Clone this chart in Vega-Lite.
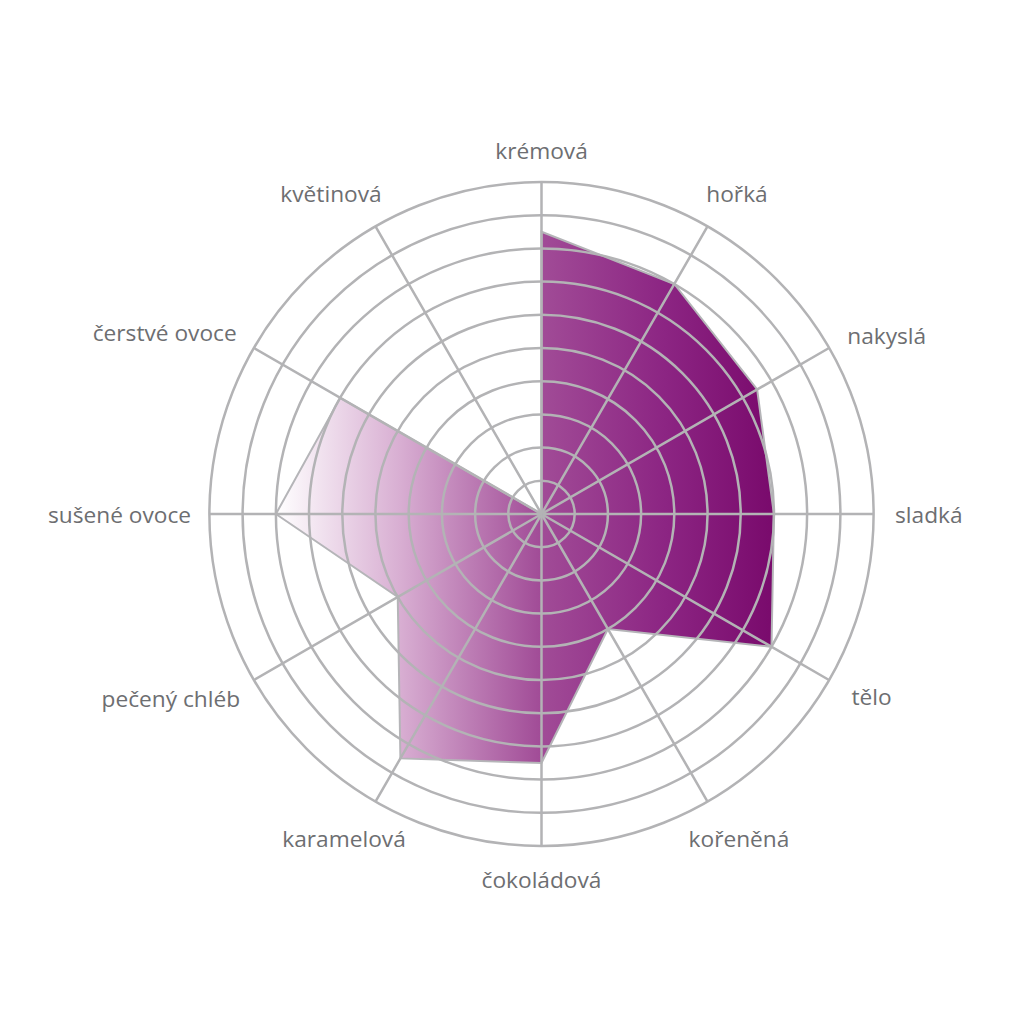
{
  "$schema": "https://vega.github.io/schema/vega-lite/v6.json",
  "width": 1000,
  "height": 1000,
  "autosize": {"type": "none"},
  "padding": {"left": 41.5, "top": 14, "right": 0, "bottom": 0},
  "background": "white",
  "config": {"view": {"stroke": null}, "text": {"font": "Open Sans", "fontSize": 22.7, "fill": "#6d6e71", "baseline": "alphabetic"}},
  "datasets": {
    "flavors": [
      {"i": 0, "label": "krémová", "value": 8.5},
      {"i": 1, "label": "hořká", "value": 8},
      {"i": 2, "label": "nakyslá", "value": 7.5},
      {"i": 3, "label": "sladká", "value": 7},
      {"i": 4, "label": "tělo", "value": 8},
      {"i": 5, "label": "kořeněná", "value": 4},
      {"i": 6, "label": "čokoládová", "value": 7.5},
      {"i": 7, "label": "karamelová", "value": 8.5},
      {"i": 8, "label": "pečený chléb", "value": 5},
      {"i": 9, "label": "sušené ovoce", "value": 8},
      {"i": 10, "label": "čerstvé ovoce", "value": 7},
      {"i": 11, "label": "květinová", "value": 0}
    ],
    "rings": [
      {"r": 1}, {"r": 2}, {"r": 3}, {"r": 4}, {"r": 5},
      {"r": 6}, {"r": 7}, {"r": 8}, {"r": 9}, {"r": 10}
    ]
  },
  "layer": [
    {
      "data": {"name": "flavors"},
      "transform": [
        {"calculate": "datum.value * sin(datum.i * PI / 6)", "as": "px"},
        {"calculate": "datum.value * cos(datum.i * PI / 6)", "as": "py"}
      ],
      "mark": {
        "type": "line",
        "interpolate": "linear-closed",
        "stroke": "#b5b5b8",
        "strokeWidth": 2,
        "fill": {
          "gradient": "linear",
          "x1": 0, "y1": 0, "x2": 1, "y2": 0,
          "stops": [
            {"offset": 0, "color": "#ffffff"},
            {"offset": 0.25, "color": "#d8aed2"},
            {"offset": 0.53, "color": "#a14c97"},
            {"offset": 0.78, "color": "#8c2583"},
            {"offset": 1, "color": "#790a6c"}
          ]
        }
      },
      "encoding": {
        "x": {"field": "px", "type": "quantitative", "scale": {"domain": [-15.06, 15.06], "nice": false, "zero": false}, "axis": null},
        "y": {"field": "py", "type": "quantitative", "scale": {"domain": [-15.06, 15.06], "nice": false, "zero": false}, "axis": null},
        "order": {"field": "i", "type": "quantitative"}
      }
    },
    {
      "data": {"name": "rings"},
      "mark": {"type": "arc", "theta": 0, "theta2": 6.2832, "fill": null, "filled": false, "stroke": "#b3b3b5", "strokeWidth": 2.5},
      "encoding": {
        "radius": {"field": "r", "type": "quantitative", "stack": null, "scale": {"type": "linear", "domain": [0, 10], "range": [0, 332], "zero": true}}
      }
    },
    {
      "data": {"name": "flavors"},
      "mark": {"type": "arc", "fill": null, "filled": false, "stroke": "#b3b3b5", "strokeWidth": 2.5},
      "encoding": {
        "theta": {"field": "i", "type": "quantitative", "scale": {"domain": [0, 12], "range": [0, 6.283185307]}},
        "theta2": {"field": "i"},
        "radius": {"datum": 10, "type": "quantitative"},
        "radius2": {"datum": 0}
      }
    },
    {
      "data": {"name": "flavors"},
      "transform": [{"filter": "datum.i == 0"}],
      "mark": {"type": "text", "align": "center"},
      "encoding": {"theta": {"field": "i", "type": "quantitative"}, "radius": {"datum": 10.7, "type": "quantitative"}, "text": {"field": "label"}}
    },
    {
      "data": {"name": "flavors"},
      "transform": [{"filter": "datum.i == 6"}],
      "mark": {"type": "text", "align": "center"},
      "encoding": {"theta": {"field": "i", "type": "quantitative"}, "radius": {"datum": 11.265, "type": "quantitative"}, "text": {"field": "label"}}
    },
    {
      "data": {"name": "flavors"},
      "transform": [{"filter": "datum.i == 1"}],
      "mark": {"type": "text", "align": "center", "dx": 15.5},
      "encoding": {"theta": {"field": "i", "type": "quantitative"}, "radius": {"datum": 10.843, "type": "quantitative"}, "text": {"field": "label"}}
    },
    {
      "data": {"name": "flavors"},
      "transform": [{"filter": "datum.i == 11"}],
      "mark": {"type": "text", "align": "center", "dx": -30.5},
      "encoding": {"theta": {"field": "i", "type": "quantitative"}, "radius": {"datum": 10.843, "type": "quantitative"}, "text": {"field": "label"}}
    },
    {
      "data": {"name": "flavors"},
      "transform": [{"filter": "datum.i == 5"}],
      "mark": {"type": "text", "align": "center", "dx": 5.5},
      "encoding": {"theta": {"field": "i", "type": "quantitative"}, "radius": {"datum": 11.566, "type": "quantitative"}, "text": {"field": "label"}}
    },
    {
      "data": {"name": "flavors"},
      "transform": [{"filter": "datum.i == 7"}],
      "mark": {"type": "text", "align": "center", "dx": -5.5},
      "encoding": {"theta": {"field": "i", "type": "quantitative"}, "radius": {"datum": 11.566, "type": "quantitative"}, "text": {"field": "label"}}
    },
    {
      "data": {"name": "flavors"},
      "transform": [{"filter": "datum.i == 2"}],
      "mark": {"type": "text", "align": "left", "dy": 7},
      "encoding": {"theta": {"field": "i", "type": "quantitative"}, "radius": {"datum": 10.633, "type": "quantitative"}, "text": {"field": "label"}}
    },
    {
      "data": {"name": "flavors"},
      "transform": [{"filter": "datum.i == 3"}],
      "mark": {"type": "text", "align": "left", "dy": 9},
      "encoding": {"theta": {"field": "i", "type": "quantitative"}, "radius": {"datum": 10.648, "type": "quantitative"}, "text": {"field": "label"}}
    },
    {
      "data": {"name": "flavors"},
      "transform": [{"filter": "datum.i == 4"}],
      "mark": {"type": "text", "align": "left", "dy": 12},
      "encoding": {"theta": {"field": "i", "type": "quantitative"}, "radius": {"datum": 10.783, "type": "quantitative"}, "text": {"field": "label"}}
    },
    {
      "data": {"name": "flavors"},
      "transform": [{"filter": "datum.i == 10"}],
      "mark": {"type": "text", "align": "right", "dy": 3},
      "encoding": {"theta": {"field": "i", "type": "quantitative"}, "radius": {"datum": 10.602, "type": "quantitative"}, "text": {"field": "label"}}
    },
    {
      "data": {"name": "flavors"},
      "transform": [{"filter": "datum.i == 9"}],
      "mark": {"type": "text", "align": "right", "dy": 9},
      "encoding": {"theta": {"field": "i", "type": "quantitative"}, "radius": {"datum": 10.557, "type": "quantitative"}, "text": {"field": "label"}}
    },
    {
      "data": {"name": "flavors"},
      "transform": [{"filter": "datum.i == 8"}],
      "mark": {"type": "text", "align": "right", "dy": 18.7},
      "encoding": {"theta": {"field": "i", "type": "quantitative"}, "radius": {"datum": 10.482, "type": "quantitative"}, "text": {"field": "label"}}
    }
  ]
}
